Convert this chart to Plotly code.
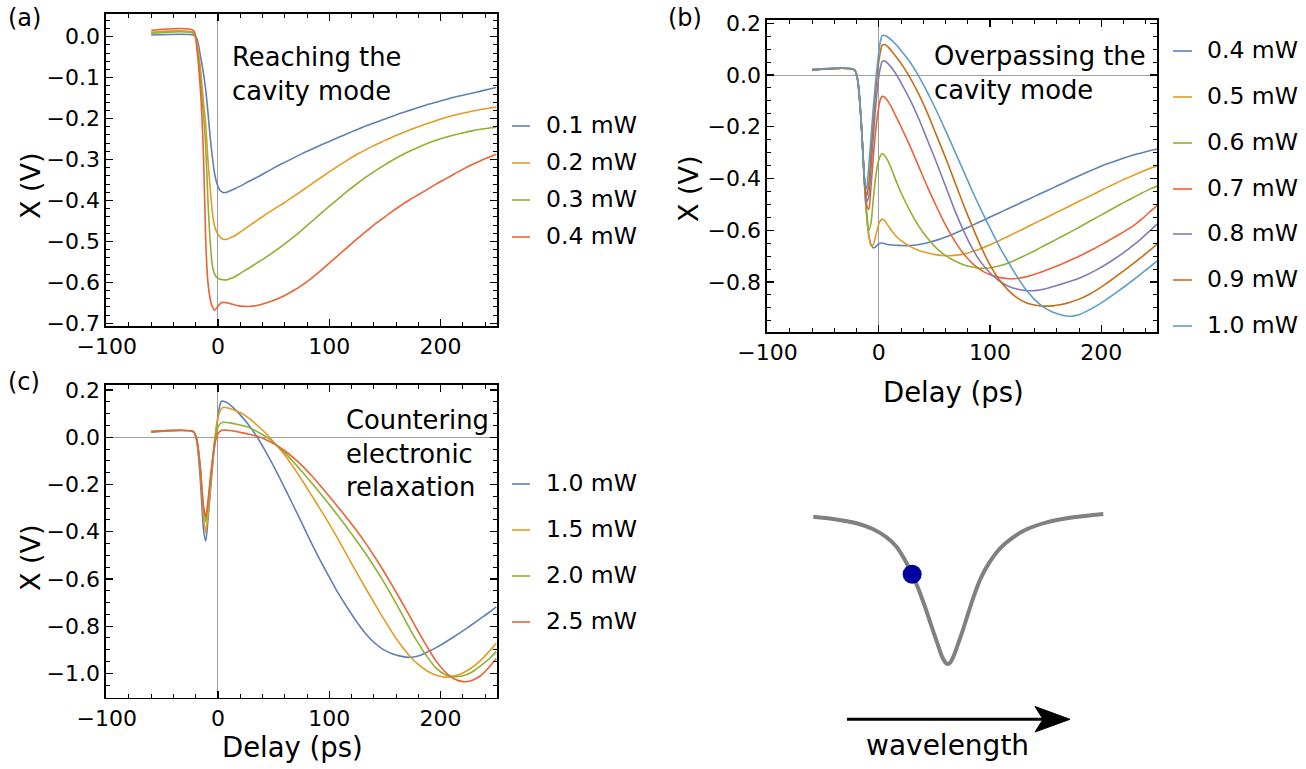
import plotly.graph_objects as go

# ---------------- data ----------------
DELAY = [-60, -22, -19, -16, -13, -11, -9, -7, -5, -3, -1, 1, 3, 5, 8, 12, 16, 20, 28, 36,
         44, 52, 60, 68, 76, 84, 92, 100, 108, 116, 124, 132, 140, 148, 156, 164, 172, 180,
         188, 196, 204, 212, 220, 228, 236, 244, 250]

# panel (a)
A_01 = [0.004, 0.004, -0.004, -0.043, -0.09, -0.13, -0.185, -0.245, -0.295, -0.335, -0.358, -0.372,
        -0.378, -0.381, -0.38, -0.375, -0.37, -0.365, -0.353, -0.342, -0.33, -0.318, -0.307, -0.296,
        -0.285, -0.275, -0.265, -0.256, -0.246, -0.237, -0.228, -0.219, -0.211, -0.203, -0.195,
        -0.187, -0.18, -0.173, -0.166, -0.16, -0.154, -0.148, -0.143, -0.138, -0.133, -0.128, -0.124]
A_02 = [0.011, 0.011, -0.012, -0.07, -0.16, -0.215, -0.3, -0.37, -0.43, -0.463, -0.478, -0.486,
        -0.492, -0.495, -0.495, -0.49, -0.485, -0.477, -0.462, -0.447, -0.432, -0.418, -0.405, -0.39,
        -0.375, -0.36, -0.345, -0.33, -0.316, -0.302, -0.289, -0.277, -0.266, -0.256, -0.246,
        -0.237, -0.228, -0.22, -0.212, -0.205, -0.198, -0.192, -0.187, -0.182, -0.178, -0.174, -0.172]
A_03 = [0.008, 0.008, -0.02, -0.095, -0.19, -0.27, -0.4, -0.5, -0.56, -0.58, -0.588, -0.591,
        -0.593, -0.594, -0.594, -0.59, -0.585, -0.578, -0.565, -0.551, -0.537, -0.522, -0.506, -0.489,
        -0.471, -0.452, -0.433, -0.414, -0.396, -0.378, -0.361, -0.345, -0.33, -0.316, -0.303,
        -0.291, -0.28, -0.27, -0.261, -0.253, -0.246, -0.24, -0.235, -0.23, -0.226, -0.223, -0.221]
A_04 = [0.015, 0.015, -0.03, -0.12, -0.29, -0.5, -0.6, -0.64, -0.66, -0.668, -0.662, -0.655,
        -0.65, -0.649, -0.65, -0.653, -0.656, -0.658, -0.659, -0.656, -0.65, -0.642, -0.632, -0.62,
        -0.606, -0.59, -0.572, -0.553, -0.534, -0.515, -0.496, -0.478, -0.46, -0.444, -0.428,
        -0.413, -0.399, -0.386, -0.373, -0.36, -0.348, -0.336, -0.324, -0.313, -0.303, -0.294, -0.287]
LABELS_A = ["0.1 mW", "0.2 mW", "0.3 mW", "0.4 mW"]

# panel (b)
B_04 = [0.02, 0.02, -0.02, -0.17, -0.41, -0.54, -0.62, -0.655, -0.668, -0.664, -0.656, -0.65,
        -0.649, -0.651, -0.655, -0.657, -0.658, -0.659, -0.659, -0.655, -0.648, -0.638, -0.626,
        -0.612, -0.597, -0.581, -0.565, -0.549, -0.533, -0.517, -0.501, -0.485, -0.469, -0.453, -0.437,
        -0.421, -0.405, -0.389, -0.374, -0.359, -0.345, -0.333, -0.321, -0.31, -0.301, -0.292, -0.286]
B_05 = [0.02, 0.02, -0.02, -0.17, -0.41, -0.54, -0.62, -0.66, -0.655, -0.625, -0.59, -0.565,
        -0.557, -0.562, -0.58, -0.605, -0.625, -0.64, -0.662, -0.678, -0.688, -0.695, -0.698,
        -0.697, -0.692, -0.682, -0.67, -0.656, -0.64, -0.624, -0.607, -0.59, -0.573, -0.556, -0.539,
        -0.522, -0.505, -0.488, -0.471, -0.454, -0.437, -0.42, -0.404, -0.389, -0.374, -0.36, -0.352]
B_06 = [0.02, 0.02, -0.02, -0.17, -0.41, -0.53, -0.6, -0.57, -0.48, -0.4, -0.345, -0.315,
        -0.303, -0.31, -0.33, -0.37, -0.415, -0.455, -0.525, -0.585, -0.632, -0.67, -0.698, -0.718,
        -0.733, -0.742, -0.747, -0.745, -0.738, -0.727, -0.712, -0.696, -0.679, -0.661, -0.643,
        -0.625, -0.607, -0.588, -0.569, -0.55, -0.531, -0.512, -0.493, -0.475, -0.457, -0.44, -0.429]
B_07 = [0.02, 0.02, -0.02, -0.17, -0.4, -0.5, -0.52, -0.43, -0.32, -0.22, -0.15, -0.1,
        -0.082, -0.085, -0.1, -0.13, -0.165, -0.2, -0.275, -0.355, -0.435, -0.51, -0.58, -0.64,
        -0.69, -0.728, -0.755, -0.772, -0.782, -0.787, -0.786, -0.78, -0.77, -0.758, -0.745,
        -0.731, -0.716, -0.7, -0.683, -0.665, -0.646, -0.626, -0.606, -0.585, -0.558, -0.527, -0.505]
B_08 = [0.02, 0.02, -0.02, -0.17, -0.4, -0.49, -0.47, -0.36, -0.24, -0.13, -0.04, 0.02,
        0.052, 0.055, 0.045, 0.025, 0.0, -0.03, -0.095, -0.17, -0.255, -0.34, -0.43, -0.52,
        -0.6, -0.67, -0.725, -0.765, -0.795, -0.815, -0.827, -0.833, -0.833, -0.828, -0.818,
        -0.808, -0.797, -0.785, -0.77, -0.752, -0.732, -0.71, -0.686, -0.66, -0.632, -0.6, -0.576]
B_09 = [0.02, 0.02, -0.02, -0.17, -0.4, -0.47, -0.42, -0.3, -0.18, -0.07, 0.02, 0.08,
        0.115, 0.118, 0.11, 0.09, 0.068, 0.045, -0.01, -0.075, -0.15, -0.235, -0.32, -0.41,
        -0.5, -0.585, -0.665, -0.735, -0.79, -0.83, -0.86, -0.879, -0.889, -0.893, -0.892,
        -0.887, -0.878, -0.866, -0.85, -0.83, -0.807, -0.782, -0.757, -0.731, -0.704, -0.676, -0.653]
P_10 = [0.022, 0.022, -0.02, -0.17, -0.39, -0.44, -0.35, -0.24, -0.13, -0.03, 0.05, 0.12,
        0.152, 0.153, 0.147, 0.133, 0.115, 0.095, 0.05, -0.005, -0.07, -0.14, -0.215, -0.292,
        -0.37, -0.448, -0.522, -0.592, -0.66, -0.72, -0.777, -0.828, -0.868, -0.897, -0.916,
        -0.927, -0.932, -0.926, -0.91, -0.891, -0.869, -0.845, -0.82, -0.794, -0.767, -0.74, -0.718]
LABELS_B = ["0.4 mW", "0.5 mW", "0.6 mW", "0.7 mW", "0.8 mW", "0.9 mW", "1.0 mW"]

# panel (c)
C_15 = [0.024, 0.024, -0.01, -0.13, -0.33, -0.405, -0.33, -0.22, -0.11, -0.01, 0.06, 0.1,
        0.12, 0.127, 0.125, 0.12, 0.113, 0.105, 0.08, 0.048, 0.012, -0.03, -0.075, -0.128,
        -0.185, -0.245, -0.305, -0.367, -0.432, -0.5, -0.568, -0.634, -0.698, -0.762, -0.823,
        -0.878, -0.925, -0.962, -0.99, -1.008, -1.016, -1.011, -0.998, -0.976, -0.945, -0.905, -0.873]
C_20 = [0.024, 0.024, -0.01, -0.12, -0.3, -0.358, -0.29, -0.19, -0.1, -0.02, 0.03, 0.052,
        0.061, 0.064, 0.063, 0.06, 0.056, 0.052, 0.042, 0.022, 0.0, -0.03, -0.065, -0.105,
        -0.148, -0.192, -0.238, -0.285, -0.333, -0.383, -0.435, -0.488, -0.545, -0.605, -0.67,
        -0.737, -0.808, -0.873, -0.93, -0.978, -1.005, -1.014, -1.01, -0.995, -0.968, -0.937, -0.908]
C_25 = [0.024, 0.024, -0.01, -0.12, -0.29, -0.336, -0.27, -0.18, -0.1, -0.035, 0.005, 0.022,
        0.029, 0.031, 0.03, 0.028, 0.025, 0.021, 0.013, 0.003, -0.012, -0.032, -0.057, -0.087,
        -0.122, -0.162, -0.205, -0.25, -0.296, -0.343, -0.392, -0.444, -0.5, -0.56, -0.623, -0.688,
        -0.755, -0.823, -0.888, -0.948, -0.993, -1.023, -1.035, -1.03, -1.01, -0.972, -0.937]
LABELS_C = ["1.0 mW", "1.5 mW", "2.0 mW", "2.5 mW"]

# schematic cavity dip (relative wavelength, relative transmission)
WL = [0.0, 0.069, 0.149, 0.207, 0.253, 0.287, 0.316, 0.341, 0.362, 0.385, 0.408, 0.428, 0.444,
      0.455, 0.463, 0.472, 0.483, 0.498, 0.516, 0.534, 0.557, 0.58, 0.609, 0.644, 0.684, 0.736,
      0.805, 0.897, 1.0]
TR = [0.982, 0.967, 0.938, 0.898, 0.844, 0.782, 0.693, 0.598, 0.504, 0.382, 0.249, 0.138, 0.049,
      0.011, 0.0, 0.009, 0.049, 0.127, 0.227, 0.338, 0.471, 0.582, 0.682, 0.771, 0.838, 0.898,
      0.944, 0.978, 1.0]
DOT_WL = [0.341]
DOT_TR = [0.598]

for s in [A_01, A_02, A_03, A_04, B_04, B_05, B_06, B_07, B_08, B_09, P_10, C_15, C_20, C_25]:
    assert len(s) == len(DELAY)

# ---------------- styling ----------------
W, H = 1306, 769
def px(x):
    return x / W
def py(y):
    return 1 - y / H

COLORS = ['#5E81B5', '#E19C24', '#8FB032', '#EB6235', '#8778B3', '#C56E1A', '#5D9EC7']
FONT = 'DejaVu Sans'
ZL_COLOR = '#a0a0a0'

fig = go.Figure()

panels = [
    dict(series=[A_01, A_02, A_03, A_04], xa='x', ya='y'),
    dict(series=[B_04, B_05, B_06, B_07, B_08, B_09, P_10], xa='x2', ya='y2'),
    dict(series=[P_10, C_15, C_20, C_25], xa='x3', ya='y3'),
]
for p in panels:
    for i, s in enumerate(p['series']):
        fig.add_trace(go.Scatter(x=DELAY, y=s, mode='lines', xaxis=p['xa'], yaxis=p['ya'],
                                 line=dict(color=COLORS[i], width=1.6, shape='spline', smoothing=0.7),
                                 showlegend=False, hoverinfo='skip'))

fig.add_trace(go.Scatter(x=WL, y=TR, mode='lines', xaxis='x4', yaxis='y4',
                         line=dict(color='#808080', width=4, shape='spline', smoothing=0.8),
                         showlegend=False, hoverinfo='skip'))
fig.add_trace(go.Scatter(x=DOT_WL, y=DOT_TR, mode='markers', xaxis='x4', yaxis='y4',
                         marker=dict(color='#00009E', size=19, line=dict(width=0)),
                         showlegend=False, hoverinfo='skip'))

TICKFONT = dict(family=FONT, size=22, color='black')


def xax(domain, rng, anchor):
    return dict(domain=domain, range=rng, anchor=anchor, showline=True, linecolor='black',
                linewidth=1.7, mirror='ticks', ticks='inside', ticklen=7, tickwidth=1.3,
                tickcolor='black', tick0=0, dtick=100, automargin=False,
                minor=dict(dtick=20, tick0=0, ticks='inside', ticklen=4, tickwidth=1, tickcolor='black'),
                showgrid=False, zeroline=True, zerolinecolor=ZL_COLOR, zerolinewidth=1,
                tickfont=TICKFONT, fixedrange=True)


def yax(domain, rng, anchor, dtick, mdtick, zl):
    return dict(domain=domain, range=rng, anchor=anchor, showline=True, linecolor='black',
                linewidth=1.7, mirror='ticks', ticks='inside', ticklen=7, tickwidth=1.3,
                tickcolor='black', tick0=0, dtick=dtick, tickformat='.1f', automargin=False,
                minor=dict(dtick=mdtick, tick0=0, ticks='inside', ticklen=4, tickwidth=1, tickcolor='black'),
                showgrid=False, zeroline=zl, zerolinecolor=ZL_COLOR, zerolinewidth=1,
                tickfont=TICKFONT, fixedrange=True)


fig.update_layout(
    width=W, height=H, autosize=False,
    margin=dict(l=0, r=0, t=0, b=0, pad=0, autoexpand=False),
    paper_bgcolor='white', plot_bgcolor='rgba(0,0,0,0)', showlegend=False,
    font=dict(family=FONT, color='black'),
    xaxis=xax([px(106), px(497)], [-100.6, 250.7], 'y'),
    yaxis=yax([py(326), py(14)], [-0.7066, 0.0554], 'x', 0.1, 0.02, False),
    xaxis2=xax([px(767), px(1157)], [-100.5, 250], 'y2'),
    yaxis2=yax([py(332), py(20)], [-0.993, 0.2126], 'x2', 0.2, 0.05, True),
    xaxis3=xax([px(106), px(497)], [-100.6, 250.7], 'y3'),
    yaxis3=yax([py(697.7), py(385)], [-1.103, 0.2216], 'x3', 0.2, 0.05, True),
    xaxis4=dict(domain=[px(790), px(1120)], range=[-0.0803, 1.0576], anchor='y4', visible=False,
                fixedrange=True, automargin=False),
    yaxis4=dict(domain=[py(760), py(490)], range=[-0.64, 1.16], anchor='x4', visible=False,
                fixedrange=True, automargin=False),
)

ann = []
def text(x, y, t, size, xanchor='left', yanchor='middle', angle=0):
    ann.append(dict(x=px(x), y=py(y), xref='paper', yref='paper', text=t, showarrow=False,
                    xanchor=xanchor, yanchor=yanchor, textangle=angle, align='left',
                    font=dict(family=FONT, size=size, color='black')))

# panel labels
text(6, 18, "(a)", 24)
text(666, 18, "(b)", 24)
text(6, 382, "(c)", 24)
# in-plot notes
text(230, 74, "Reaching the<br>cavity mode", 25.8)
text(932, 73, "Overpassing the<br>cavity mode", 25.8)
text(344, 453, "Countering<br>electronic<br>relaxation", 25.8)
# axis titles
text(30, 186, "X (V)", 27, xanchor='center', angle=-90)
text(689, 189, "X (V)", 27, xanchor='center', angle=-90)
text(30, 558, "X (V)", 27, xanchor='center', angle=-90)
text(953, 392, "Delay (ps)", 27.5, xanchor='center')
text(292, 747, "Delay (ps)", 27.5, xanchor='center')
# schematic label
text(947, 745, "wavelength", 28, xanchor='center')

shapes = []
def legend(labels, ys, x0, x1, xt):
    for i, (lab, y) in enumerate(zip(labels, ys)):
        shapes.append(dict(type='line', xref='paper', yref='paper', x0=px(x0), x1=px(x1),
                           y0=py(y), y1=py(y), line=dict(color=COLORS[i], width=1.6)))
        text(xt, y - 1, lab, 23.5)

legend(LABELS_A, [126, 163, 200, 237], 512, 530, 544)
legend(LABELS_B, [51, 97, 143, 189, 234, 280, 326], 1173, 1192, 1205)
legend(LABELS_C, [484, 530, 576, 622], 512, 530, 544)

# wavelength arrow
shapes.append(dict(type='line', xref='paper', yref='paper', x0=px(847), x1=px(1045),
                   y0=py(719.3), y1=py(719.3), line=dict(color='black', width=3)))
head = "M {},{} L {},{} L {},{} L {},{} Z".format(px(1070), py(719.3), px(1035), py(706.5),
                                                  px(1043), py(719.3), px(1035), py(732))
shapes.append(dict(type='path', xref='paper', yref='paper', path=head,
                   fillcolor='black', line=dict(color='black', width=1)))

fig.update_layout(annotations=ann, shapes=shapes)
fig.write_html("out.html", config={'displayModeBar': False, 'staticPlot': True},
               post_script="document.body.style.margin='0px';"
                           "document.body.style.overflow='hidden';")
